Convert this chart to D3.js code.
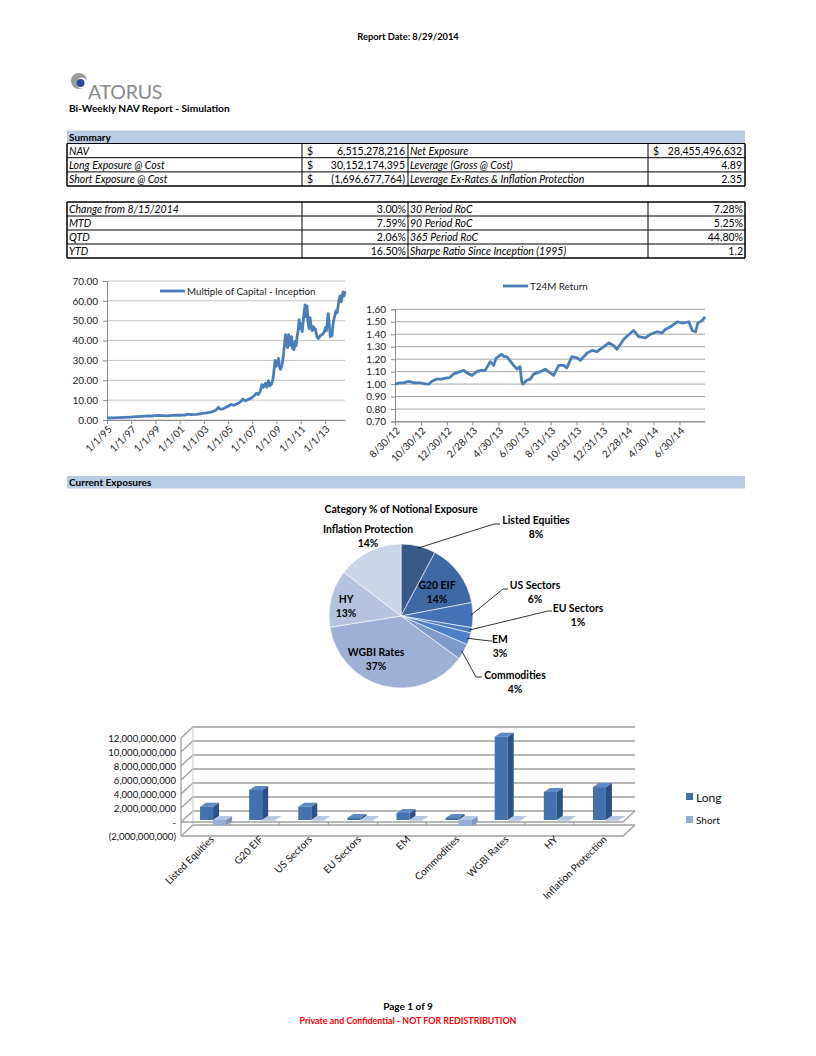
<!DOCTYPE html>
<html><head><meta charset="utf-8">
<script src="https://cdn.jsdelivr.net/npm/d3@7"></script>
<style>
body{margin:0;background:#fff;}
svg{display:block;font-family:Lato,"Liberation Sans",sans-serif;}
</style></head><body>
<svg id="page" width="816" height="1056"></svg>
<script>
// ---------------- DATA ----------------
const reportDate = "Report Date: 8/29/2014";
const reportTitle = "Bi-Weekly NAV Report - Simulation";

const sumLabelsA = ["NAV", "Long Exposure @ Cost", "Short Exposure @ Cost"];
const sumValuesA = ["6,515,278,216", "30,152,174,395", "(1,696,677,764)"];
const sumLabelsB = ["Net Exposure", "Leverage (Gross @ Cost)", "Leverage Ex-Rates & Inflation Protection"];
const sumValuesB = ["28,455,496,632", "4.89", "2.35"];
const sumDollarB = [true, false, false];

const perfLabelsA = ["Change from 8/15/2014", "MTD", "QTD", "YTD"];
const perfValuesA = ["3.00%", "7.59%", "2.06%", "16.50%"];
const perfLabelsB = ["30 Period RoC", "90 Period RoC", "365 Period RoC", "Sharpe Ratio Since Inception (1995)"];
const perfValuesB = ["7.28%", "5.25%", "44.80%", "1.2"];

const mocDates = ["1995-01-01","1995-06-01","1995-12-01","1996-06-01","1996-12-01","1997-06-01","1997-12-01","1998-06-01","1998-09-01","1998-12-01","1999-06-01","1999-12-01","2000-06-01","2000-12-01","2001-06-01","2001-09-15","2001-12-01","2002-06-01","2002-12-01","2003-04-01","2003-08-01","2003-11-01","2004-01-15","2004-03-15","2004-05-01","2004-08-01","2004-11-01","2005-01-15","2005-04-01","2005-07-01","2005-10-01","2006-01-01","2006-04-01","2006-06-01","2006-09-01","2006-12-01","2007-03-01","2007-05-01","2007-07-01","2007-09-01","2007-10-15","2007-12-01","2008-02-01","2008-03-15","2008-05-01","2008-06-15","2008-08-01","2008-09-15","2008-10-20","2008-11-20","2008-12-20","2009-02-01","2009-03-01","2009-04-01","2009-05-01","2009-06-15","2009-08-01","2009-09-01","2009-10-01","2009-10-20","2009-12-01","2010-01-01","2010-02-01","2010-03-01","2010-04-01","2010-05-01","2010-06-15","2010-07-15","2010-08-15","2010-09-15","2010-10-15","2010-11-15","2010-12-15","2011-01-15","2011-02-15","2011-03-15","2011-04-15","2011-05-15","2011-06-10","2011-07-10","2011-08-10","2011-09-10","2011-10-10","2011-11-10","2011-12-10","2012-01-15","2012-02-15","2012-03-15","2012-04-15","2012-05-15","2012-06-15","2012-08-15","2012-10-15","2012-12-15","2013-01-15","2013-02-15","2013-03-10","2013-04-10","2013-05-10","2013-06-10","2013-07-10","2013-08-01","2013-09-01","2013-10-01","2013-11-01","2013-12-01","2014-01-01","2014-02-01","2014-03-01","2014-04-01","2014-05-01","2014-06-01","2014-07-01","2014-08-01","2014-08-29"];
const mocValues = [1.00,1.10,1.20,1.30,1.45,1.65,1.85,2.10,1.90,2.20,2.30,2.10,2.30,2.40,2.50,3.00,2.70,2.80,3.30,3.60,4.00,4.50,5.20,6.40,5.50,5.60,6.50,7.00,7.80,7.40,8.20,9.00,10.60,9.60,10.40,11.00,12.20,13.50,12.80,14.50,17.80,16.50,18.50,16.50,19.80,17.20,18.00,20.50,25.50,30.00,27.00,28.50,31.00,26.50,25.50,27.50,33.00,38.50,43.00,38.50,36.50,43.00,40.00,37.50,42.00,36.00,35.50,39.50,37.50,42.00,45.00,50.50,46.00,48.50,44.50,49.50,54.50,58.00,52.00,57.50,49.50,46.00,51.50,47.00,45.00,47.00,45.50,46.00,43.50,41.50,41.00,42.50,43.00,44.50,46.50,45.00,49.00,53.50,48.50,42.00,44.50,42.50,48.00,51.00,53.00,55.00,54.00,57.00,60.50,62.50,59.50,61.50,64.50,62.50,65.00];
const mocTickDates = ["1995-01-01","1997-01-01","1999-01-01","2001-01-01","2003-01-01","2005-01-01","2007-01-01","2009-01-01","2011-01-01","2013-01-01"];
const mocTickLabels = ["1/1/95","1/1/97","1/1/99","1/1/01","1/1/03","1/1/05","1/1/07","1/1/09","1/1/11","1/1/13"];
const mocYTicks = [0,10,20,30,40,50,60,70];
const mocLegend = "Multiple of Capital - Inception";

const t24Dates = ["2012-08-30","2012-09-10","2012-09-19","2012-09-28","2012-10-04","2012-10-15","2012-10-28","2012-11-13","2012-11-18","2012-11-24","2012-12-06","2012-12-18","2012-12-30","2013-01-05","2013-01-14","2013-01-22","2013-01-30","2013-02-08","2013-02-15","2013-02-27","2013-03-10","2013-03-20","2013-03-30","2013-04-11","2013-04-19","2013-04-25","2013-04-30","2013-05-08","2013-05-14","2013-05-20","2013-06-05","2013-06-13","2013-06-20","2013-06-24","2013-06-27","2013-07-06","2013-07-14","2013-07-22","2013-08-07","2013-08-18","2013-08-30","2013-09-07","2013-09-19","2013-10-01","2013-10-08","2013-10-20","2013-11-01","2013-11-09","2013-11-25","2013-12-06","2013-12-18","2014-01-03","2014-01-15","2014-01-26","2014-02-03","2014-02-19","2014-03-07","2014-03-14","2014-03-26","2014-04-11","2014-04-23","2014-05-08","2014-05-20","2014-05-28","2014-06-09","2014-06-25","2014-07-06","2014-07-22","2014-07-30","2014-08-07","2014-08-12","2014-08-18","2014-08-25","2014-08-29"];
const t24Values = [1.00,1.01,1.01,1.02,1.02,1.01,1.01,1.00,1.00,1.02,1.04,1.04,1.05,1.05,1.08,1.09,1.10,1.11,1.09,1.07,1.10,1.11,1.11,1.18,1.15,1.21,1.22,1.24,1.22,1.22,1.15,1.12,1.14,1.02,1.00,1.03,1.04,1.08,1.10,1.12,1.09,1.07,1.15,1.15,1.13,1.22,1.21,1.19,1.25,1.27,1.26,1.30,1.33,1.31,1.28,1.36,1.41,1.43,1.38,1.37,1.40,1.42,1.41,1.44,1.46,1.50,1.49,1.50,1.43,1.42,1.49,1.50,1.52,1.54];
const t24TickDates = ["2012-08-30","2012-10-30","2012-12-30","2013-02-28","2013-04-30","2013-06-30","2013-08-31","2013-10-31","2013-12-31","2014-02-28","2014-04-30","2014-06-30"];
const t24TickLabels = ["8/30/12","10/30/12","12/30/12","2/28/13","4/30/13","6/30/13","8/31/13","10/31/13","12/31/13","2/28/14","4/30/14","6/30/14"];
const t24YTicks = [0.7,0.8,0.9,1.0,1.1,1.2,1.3,1.4,1.5,1.6];
const t24Legend = "T24M Return";

const pieTitle = "Category % of Notional Exposure";
const pieCats = ["Listed Equities","G20 EIF","US Sectors","EU Sectors","EM","Commodities","WGBI Rates","HY","Inflation Protection"];
const piePct = [7.8, 14.2, 5.6, 1.2, 2.7, 3.6, 37.4, 12.9, 14.6];
const pieLabels = ["8%","14%","6%","1%","3%","4%","37%","13%","14%"];
const pieColors = ["#375a88","#3e68a3","#4472b4","#4a7abd","#4f80c6","#7d9acb","#9eb0d6","#b5c3df","#ccd5e7"];

const barCats = ["Listed Equities","G20 EIF","US Sectors","EU Sectors","EM","Commodities","WGBI Rates","HY","Inflation Protection"];
const longVals = [1.9e9, 4.3e9, 1.9e9, 0.3e9, 1.0e9, 0.3e9, 11.9e9, 4.0e9, 4.7e9];
const shortVals = [-0.75e9, -0.03e9, -0.02e9, -0.05e9, -0.02e9, -0.85e9, -0.02e9, -0.02e9, -0.02e9];
const barYTicks = [-2e9, 0, 2e9, 4e9, 6e9, 8e9, 10e9, 12e9];
const seriesNames = ["Long","Short"];

// ---------------- DRAW ----------------
const svg = d3.select("#page");
const parse = d3.timeParse("%Y-%m-%d");
const FS = 10.5;

// header
svg.append("text").attr("x",408).attr("y",40).attr("text-anchor","middle")
  .attr("font-size",9.3).attr("font-weight","bold").text(reportDate);

// logo
const logo = svg.append("g");
logo.append("circle").attr("cx",79).attr("cy",81).attr("r",8).attr("fill","#9a9a9a");
logo.append("circle").attr("cx",82).attr("cy",83).attr("r",5.5).attr("fill","#fff");
logo.append("circle").attr("cx",80.5).attr("cy",83).attr("r",4).attr("fill","#2a4a9a");
logo.append("text").attr("x",88).attr("y",98.5).attr("font-size",19.5).attr("fill","#8a8a8a")
  .attr("letter-spacing",-0.2).text("ATORUS");
svg.append("text").attr("x",69).attr("y",112).attr("font-size",10.2).attr("font-weight","bold").text(reportTitle);

// tables
const TL = 67, TR = 745, C1 = 302, C2 = 408, C3 = 648;
function band(y, label){
  svg.append("rect").attr("x",TL).attr("y",y).attr("width",TR-TL).attr("height",12.5).attr("fill","#b8cce4");
  svg.append("text").attr("x",TL+2).attr("y",y+10).attr("font-size",10).attr("font-weight","bold").text(label);
}
function hline(x1,x2,y,w){ svg.append("line").attr("x1",x1).attr("x2",x2).attr("y1",y).attr("y2",y).attr("stroke","#000").attr("stroke-width",w||1); }
function vline(x,y1,y2,w){ svg.append("line").attr("x1",x).attr("x2",x).attr("y1",y1).attr("y2",y2).attr("stroke","#000").attr("stroke-width",w||1); }
function txt(x,y,s,opts){
  const t = svg.append("text").attr("x",x).attr("y",y).attr("font-size",FS).text(s);
  if(opts&&opts.italic) t.attr("font-style","italic");
  if(opts&&opts.end) t.attr("text-anchor","end");
  return t;
}
band(130.5, "Summary");
const r0 = 143.5, rh = 14.2;
sumLabelsA.forEach((d,i)=>{
  const y = r0 + i*rh;
  txt(TL+2, y+11, d, {italic:true});
  txt(C1+5, y+11, "$");
  txt(C2-3, y+11, sumValuesA[i], {end:true});
  txt(C2+2, y+11, sumLabelsB[i], {italic:true});
  if(sumDollarB[i]) txt(C3+5, y+11, "$");
  txt(TR-3, y+11, sumValuesB[i], {end:true});
});
for(let i=0;i<=3;i++) hline(TL, TR, r0+i*rh, i===3?1.5:1);
[TL,C1,C2,C3,TR].forEach((x,j)=>vline(x, r0, r0+3*rh, (j===0||j===4)?1.5:1));

const p0 = 202, ph = 14;
perfLabelsA.forEach((d,i)=>{
  const y = p0 + i*ph;
  txt(TL+2, y+11, d, {italic:true});
  txt(C2-2, y+11, perfValuesA[i], {end:true});
  txt(C2+2, y+11, perfLabelsB[i], {italic:true});
  txt(TR-2, y+11, perfValuesB[i], {end:true});
});
for(let i=0;i<=4;i++) hline(TL, TR, p0+i*ph, (i===0||i===4)?1.5:1);
[TL,C1,C2,C3,TR].forEach((x,j)=>vline(x, p0, p0+4*ph, (j===0||j===4)?1.5:1));

// ---------- line chart helper ----------
function lineChart(cfg){
  const g = svg.append("g");
  const x = d3.scaleTime().domain(cfg.xDomain).range([cfg.x0, cfg.x1]);
  const y = d3.scaleLinear().domain(cfg.yDomain).range([cfg.y0, cfg.y1]);
  g.append("g").selectAll("line").data(cfg.yTicks).join("line")
    .attr("x1",cfg.x0).attr("x2",cfg.x1).attr("y1",d=>y(d)).attr("y2",d=>y(d))
    .attr("stroke",cfg.grid).attr("stroke-width",1);
  const ya = g.append("g").attr("transform",`translate(${cfg.x0},0)`)
    .call(d3.axisLeft(y).tickValues(cfg.yTicks).tickFormat(d3.format(".2f")).tickSize(4).tickPadding(5));
  ya.select(".domain").attr("stroke","#8c8c8c");
  ya.selectAll(".tick line").attr("stroke","#8c8c8c");
  ya.selectAll("text").attr("font-size",10).attr("fill","#222").attr("font-family","Lato");
  const tickD = cfg.tickDates.map(parse);
  const xa = g.append("g").attr("transform",`translate(0,${cfg.y0})`)
    .call(d3.axisBottom(x).tickValues(tickD).tickFormat((d,i)=>cfg.tickLabels[i]).tickSize(4).tickSizeOuter(0));
  xa.select(".domain").attr("stroke","#8c8c8c");
  xa.selectAll(".tick line").attr("stroke","#8c8c8c");
  xa.selectAll("text").attr("font-size",10).attr("fill","#222").attr("font-family","Lato")
    .attr("text-anchor","end").attr("dy",0).attr("y",0)
    .attr("transform","translate(5,10) rotate(-45)");
  const data = cfg.dates.map((d,i)=>({d:parse(d), v:cfg.values[i]}));
  g.append("path").datum(data).attr("fill","none").attr("stroke","#4a7ebb").attr("stroke-width",2.8)
    .attr("stroke-linejoin","round")
    .attr("d", d3.line().x(d=>x(d.d)).y(d=>y(d.v)));
  g.append("line").attr("x1",cfg.lx).attr("x2",cfg.lx+25).attr("y1",cfg.ly).attr("y2",cfg.ly)
    .attr("stroke","#4a7ebb").attr("stroke-width",2.8);
  g.append("text").attr("x",cfg.lx+27).attr("y",cfg.ly+3.5).attr("font-size",9.8).attr("fill","#222").text(cfg.legend);
}
lineChart({xDomain:[parse("1995-01-01"), parse("2014-08-29")], x0:107, x1:345,
  yDomain:[0,70], y0:420, y1:281, yTicks:mocYTicks, grid:"#c4c4c4",
  tickDates:mocTickDates, tickLabels:mocTickLabels, dates:mocDates, values:mocValues,
  lx:160, ly:291, legend:mocLegend});
lineChart({xDomain:[parse("2012-08-30"), parse("2014-08-29")], x0:395, x1:705,
  yDomain:[0.7,1.6], y0:421.5, y1:309.3, yTicks:t24YTicks, grid:"#a6a6a6",
  tickDates:t24TickDates, tickLabels:t24TickLabels, dates:t24Dates, values:t24Values,
  lx:503, ly:286, legend:t24Legend});

// ---------- Current exposures ----------
band(476, "Current Exposures");

// pie
const cx = 401, cy = 616, R = 72;
svg.append("text").attr("x",cx).attr("y",513).attr("text-anchor","middle").attr("font-size",10.4)
  .attr("font-weight","bold").text(pieTitle);
const pie = d3.pie().sort(null).value(d=>d)(piePct);
const arc = d3.arc().innerRadius(0).outerRadius(R);
const pg = svg.append("g").attr("transform",`translate(${cx},${cy})`);
pg.selectAll("path").data(pie).join("path").attr("d",arc)
  .attr("fill",(d,i)=>pieColors[i]).attr("stroke","#fff").attr("stroke-width",0.6);
const pieLab = {
  "Listed Equities":{x:536,y:524,lead:[494,524,500]},
  "G20 EIF":{x:437,y:589},
  "US Sectors":{x:535,y:589,lead:[503,589,508]},
  "EU Sectors":{x:578,y:612,lead:[548,611,552]},
  "EM":{x:500,y:643,lead:[490,641,492]},
  "Commodities":{x:515,y:679,lead:[476,677,482]},
  "WGBI Rates":{x:376,y:656},
  "HY":{x:346,y:603},
  "Inflation Protection":{x:368,y:533}
};
pie.forEach((p,i)=>{
  const L = pieLab[pieCats[i]];
  const t = svg.append("text").attr("text-anchor","middle").attr("font-size",10.4).attr("font-weight","bold");
  t.append("tspan").attr("x",L.x).attr("y",L.y).text(pieCats[i]);
  t.append("tspan").attr("x",L.x).attr("y",L.y+14).text(pieLabels[i]);
  if(L.lead){
    const a = (p.startAngle+p.endAngle)/2;
    const sx = cx + Math.sin(a)*(R-2), sy = cy - Math.cos(a)*(R-2);
    svg.append("polyline").attr("points",`${sx},${sy} ${L.lead[0]},${L.lead[1]} ${L.lead[2]},${L.lead[1]}`)
      .attr("fill","none").attr("stroke","#000").attr("stroke-width",0.8);
  }
});

// ---------- 3D bar chart ----------
const X0 = 181, X1 = 623, DX = 12, DY = -11;
const yF = d3.scaleLinear().domain([-2e9, 12e9]).range([836, 738]);
const xb = d3.scaleBand().domain(barCats).range([X0, X1]);
const bw = xb.bandwidth();
const xs = d3.scaleBand().domain(seriesNames).range([bw*0.347, bw*0.877]);
const bg = svg.append("g");
const gridCol = "#a0a0a0";
barYTicks.forEach(v=>{
  bg.append("polyline").attr("points",`${X0},${yF(v)} ${X0+DX},${yF(v)+DY} ${X1+DX},${yF(v)+DY}`)
    .attr("fill","none").attr("stroke",gridCol).attr("stroke-width",1.3);
  bg.append("text").attr("x",176).attr("y",yF(v)+3.5).attr("text-anchor","end").attr("font-size",9.6).attr("fill","#111")
    .text(v===0?"-":(v<0?"("+d3.format(",")(-v)+")":d3.format(",")(v)));
});
bg.append("line").attr("x1",X0).attr("x2",X0).attr("y1",yF(12e9)).attr("y2",yF(-2e9)).attr("stroke",gridCol).attr("stroke-width",1.3);
bg.append("line").attr("x1",X0+DX).attr("x2",X0+DX).attr("y1",yF(12e9)+DY).attr("y2",yF(-2e9)+DY).attr("stroke","#c8c8c8").attr("stroke-width",1);
bg.append("polyline").attr("points",`${X0},${yF(-2e9)} ${X1},${yF(-2e9)} ${X1+DX},${yF(-2e9)+DY}`)
  .attr("fill","none").attr("stroke",gridCol).attr("stroke-width",1.3);
bg.append("line").attr("x1",X0).attr("x2",X1).attr("y1",yF(0)).attr("y2",yF(0)).attr("stroke",gridCol).attr("stroke-width",1.3);
bg.append("line").attr("x1",X1).attr("x2",X1+DX).attr("y1",yF(0)).attr("y2",yF(0)+DY).attr("stroke",gridCol).attr("stroke-width",1.3);
barCats.forEach((c,i)=>{
  if(i>0) bg.append("line").attr("x1",xb(c)).attr("x2",xb(c)).attr("y1",yF(0)).attr("y2",yF(0)+4).attr("stroke",gridCol).attr("stroke-width",1.2);
});
const BX = 2, BY = -2, ddx = 6, ddy = -4;
const shade = {Long:{front:"#4371ad",top:"#5f89c4",side:"#2c5184"}, Short:{front:"#94aed6",top:"#b4c8e6",side:"#7a93bb"}};
barCats.forEach((c,i)=>{
  [["Long",longVals[i]],["Short",shortVals[i]]].forEach(([s,v])=>{
    const x = xb(c)+xs(s)+BX, w = xs.bandwidth();
    const yt = Math.min(yF(v),yF(0))+BY, yb = Math.max(yF(v),yF(0))+BY;
    const col = shade[s];
    bg.append("polygon").attr("points",`${x+w},${yt} ${x+w+ddx},${yt+ddy} ${x+w+ddx},${yb+ddy} ${x+w},${yb}`).attr("fill",col.side);
    bg.append("polygon").attr("points",`${x},${yt} ${x+w},${yt} ${x+w+ddx},${yt+ddy} ${x+ddx},${yt+ddy}`).attr("fill",col.top);
    bg.append("rect").attr("x",x).attr("y",yt).attr("width",w).attr("height",Math.max(0.5,yb-yt)).attr("fill",col.front);
  });
  bg.append("text").attr("text-anchor","end").attr("font-size",10).attr("fill","#111")
    .attr("transform",`translate(${xb(c)+bw/2+9},${yF(-2e9)+4}) rotate(-45)`).text(c);
});
bg.append("rect").attr("x",686).attr("y",793).attr("width",7).attr("height",7).attr("fill",shade.Long.front);
bg.append("text").attr("x",696).attr("y",801.5).attr("font-size",12).attr("fill","#111").text("Long");
bg.append("rect").attr("x",686).attr("y",816).attr("width",7).attr("height",7).attr("fill",shade.Short.front);
bg.append("text").attr("x",696).attr("y",823.5).attr("font-size",10).attr("fill","#111").text("Short");

// footer
svg.append("text").attr("x",408).attr("y",1010).attr("text-anchor","middle").attr("font-size",10).attr("font-weight","bold").text("Page 1 of 9");
svg.append("text").attr("x",408).attr("y",1024).attr("text-anchor","middle").attr("font-size",8.9).attr("font-weight","bold").attr("fill","#ff0000").text("Private and Confidential - NOT FOR REDISTRIBUTION");
</script>
</body></html>
